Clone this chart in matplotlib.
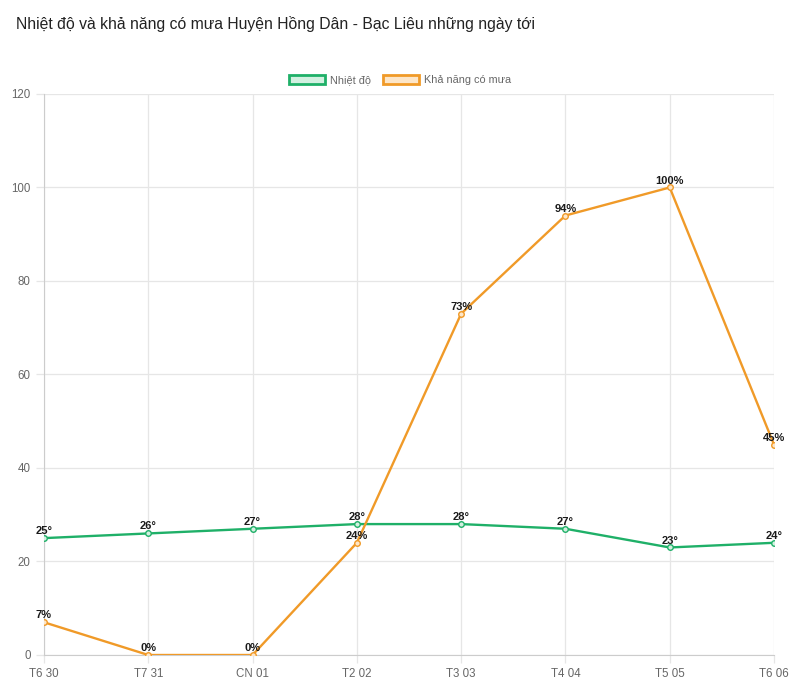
import matplotlib.pyplot as plt
from matplotlib.patches import Patch

plt.rcParams['font.family'] = ['Liberation Sans', 'DejaVu Sans']

days = ['T6 30', 'T7 31', 'CN 01', 'T2 02', 'T3 03', 'T4 04', 'T5 05', 'T6 06']
temp = [25, 26, 27, 28, 28, 27, 23, 24]
rain = [7, 0, 0, 24, 73, 94, 100, 45]

green = '#1fb068'
orange = '#f09a28'

fig = plt.figure(figsize=(8, 6.94), dpi=100)
ax = fig.add_axes([0.055, 0.0562, 0.9125, 0.8084])

x = list(range(len(days)))
ax.plot(x, temp, color=green, lw=1.7, marker='o', ms=4,
        mfc='#d2f0e0', mec=green, mew=1, zorder=3)
ax.plot(x, rain, color=orange, lw=1.7, marker='o', ms=4,
        mfc='#fde6c8', mec=orange, mew=1, zorder=3)

for i in x:
    ax.annotate(f'{temp[i]}°', (i, temp[i]), xytext=(0, 5), textcoords='offset points',
                ha='center', va='center', fontsize=8, fontweight='bold', color='#1a1a1a', zorder=5)
    ax.annotate(f'{rain[i]}%', (i, rain[i]), xytext=(0, 5), textcoords='offset points',
                ha='center', va='center', fontsize=8, fontweight='bold', color='#1a1a1a', zorder=5)

ax.set_xlim(0, len(days) - 1)
ax.set_ylim(0, 120)
ax.set_xticks(x)
ax.set_xticklabels(days)
ax.set_yticks(range(0, 121, 20))
ax.grid(True, color='#e6e6e6', lw=0.9)
ax.set_axisbelow(True)
for s in ['top', 'right']:
    ax.spines[s].set_visible(False)
ax.spines['left'].set_color('#cccccc')
ax.spines['bottom'].set_color('#cccccc')
ax.tick_params(colors='#666666', labelsize=8.3, length=6, width=0.9)
ax.tick_params(axis='both', color='#e6e6e6')

fig.text(0.02, 0.965, 'Nhiệt độ và khả năng có mưa Huyện Hồng Dân - Bạc Liêu những ngày tới',
         fontsize=11.3, color='#222222', va='center', ha='left')

handles = [Patch(facecolor='#d2f0e0', edgecolor=green, lw=2, label='Nhiệt độ'),
           Patch(facecolor='#fde6c8', edgecolor=orange, lw=2, label='Khả năng có mưa')]
fig.legend(handles=handles, loc='center', bbox_to_anchor=(0.5, 0.885), ncol=2,
           frameon=False, fontsize=7.8, labelcolor='#666666', handlelength=3.3,
           handleheight=0.9, columnspacing=1.1, handletextpad=0.5)

fig.savefig('out.png', dpi=100, facecolor='white')
